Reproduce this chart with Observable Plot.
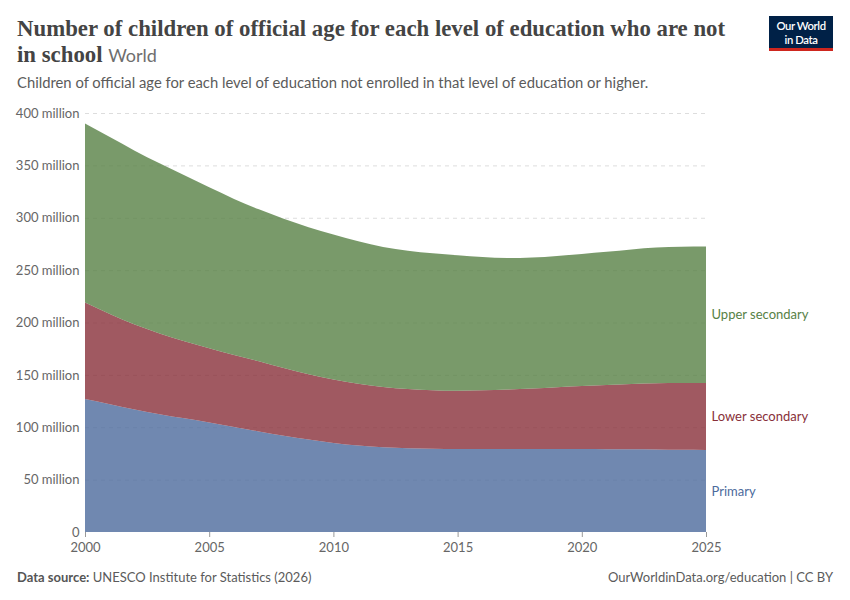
<!DOCTYPE html>
<html><head><meta charset="utf-8">
<script src="https://cdn.jsdelivr.net/npm/d3@7"></script>
<script src="https://cdn.jsdelivr.net/npm/@observablehq/plot@0.6"></script>
<style>
body{margin:0;background:#fff;font-family:Lato,"Noto Sans",sans-serif;}
#wrap{position:relative;width:850px;height:600px;}
#title{position:absolute;left:17px;top:16px;width:740px;font-family:"Liberation Serif","DejaVu Serif",serif;font-size:22.8px;line-height:26px;color:#444;font-weight:700;white-space:nowrap;}
#title span{font-family:Lato,sans-serif;font-weight:400;font-size:18px;color:#6e6e6e;}
#sub{position:absolute;left:17px;top:73px;font-size:14.8px;color:#5b5b5b;white-space:nowrap;}
#logo{position:absolute;left:769px;top:16px;width:64px;background:#002147;border-bottom:3px solid #ce261e;color:#fff;font-size:11.3px;font-weight:600;line-height:13.5px;text-align:center;padding-top:3px;height:29px;letter-spacing:-0.4px}
#chart{position:absolute;left:0;top:100px;}
#src{position:absolute;left:17px;top:569px;font-size:13px;color:#5b5b5b;}
#src b{font-weight:700;color:#555}
#lic{position:absolute;right:17px;top:569px;font-size:13px;color:#5b5b5b;}
</style></head>
<body><div id="wrap">
<div id="title">Number of children of official age for each level of education who are not<br>in school <span>World</span></div>
<div id="sub">Children of official age for each level of education not enrolled in that level of education or higher.</div>
<div id="logo">Our World<br>in Data</div>
<div id="chart"></div>
<div id="src"><b>Data source:</b> UNESCO Institute for Statistics (2026)</div>
<div id="lic">OurWorldinData.org/education | CC BY</div>
</div>
<script>
const years = [2000,2001,2002,2003,2004,2005,2006,2007,2008,2009,2010,2011,2012,2013,2014,2015,2016,2017,2018,2019,2020,2021,2022,2023,2024,2025];
const primary = [127,122,117,112.5,108.5,104.5,100.3,96,92,88.3,85,82.5,80.8,79.9,79.5,79.3,79.3,79.3,79.3,79.3,79.2,79,78.9,78.8,78.5,78.3];
const lowerSecondary = [92,86,81,77,73.5,71,68.7,67,64.5,62.2,60.5,59,57.7,56.6,55.8,55.5,56,56.7,57.7,58.9,60.2,61.4,62.4,63.2,63.7,64];
const upperSecondary = [171,169,166,162.5,158.5,153.5,149,145,142.5,140.5,138.5,136,133.5,132,130.7,129.4,127.2,125.5,125,125.3,126.1,127.1,128.5,129.5,130.1,130.2];
const seriesNames = ["Primary","Lower secondary","Upper secondary"];
const seriesColors = ["#4C6A9C","#883039","#578145"];
const yTicks = [0,50,100,150,200,250,300,350,400];
const xTicks = [2000,2005,2010,2015,2020,2025];

const seriesValues = [primary, lowerSecondary, upperSecondary];
const data = [];
seriesNames.forEach((s,i)=>years.forEach((y,j)=>data.push({year:y, series:s, value:seriesValues[i][j]})));

// label positions: midpoints of last stacked values
const last = years.length-1;
let cum = 0;
const labels = seriesNames.map((s,i)=>{const v=seriesValues[i][last]; const mid=cum+v/2; cum+=v; return {series:s, year:years[last], mid};});

const chart = Plot.plot({
  width: 850, height: 462,
  marginLeft: 85, marginRight: 144, marginTop: 13, marginBottom: 30,
  style: {fontFamily: "Lato, sans-serif", fontSize: "13px", color: "#666", background:"transparent"},
  x: {domain:[2000,2025], label: null},
  y: {domain:[0,400], label: null},
  color: {domain: seriesNames, range: seriesColors},
  marks: [
    Plot.gridY(yTicks.filter(d=>d>0), {stroke:"#ddd", strokeOpacity:1, strokeDasharray:"4,4"}),
    Plot.areaY(data, {x:"year", y:"value", z:"series", fill:"series", fillOpacity:0.8, order: seriesNames, curve:"monotone-x"}),
    Plot.axisY(yTicks, {tickSize:0, tickPadding:6, tickFormat: d=> d===0 ? "0" : d+" million", fill:"#666", fontSize:13}),
    Plot.axisX(xTicks, {tickSize:5, tickPadding:5, stroke:"#999", fill:"#666", fontSize:13,
      textAnchor: d=> d===2000 ? "start" : d===2025 ? "end" : "middle", tickFormat: d=>String(d)}),
    Plot.text(labels, {x:"year", y:"mid", text:"series", fill:"series", textAnchor:"start", dx:5, fontSize:13})
  ]
});
document.getElementById("chart").appendChild(chart);
</script>
</body></html>
